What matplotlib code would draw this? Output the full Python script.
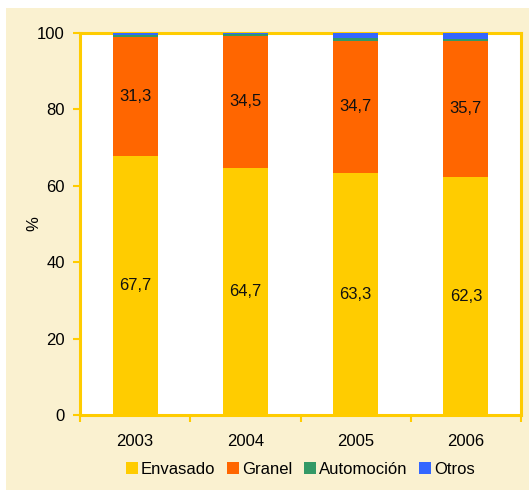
import numpy as np
import matplotlib.pyplot as plt
from matplotlib.patches import Rectangle

years = ['2003', '2004', '2005', '2006']
envasado = [67.7, 64.7, 63.3, 62.3]
granel = [31.3, 34.5, 34.7, 35.7]
automocion = [0.6, 0.5, 0.6, 0.5]
otros = [0.4, 0.3, 1.4, 1.5]

colores = ['#FFCC00', '#FF6600', '#339966', '#3366FF']
crema = '#FAF1D0'
oro = '#FFCC00'

plt.rcParams['font.family'] = ['Liberation Sans', 'DejaVu Sans']

fig = plt.figure(figsize=(5.29, 4.9), dpi=100, facecolor='white')
fig.patches.append(Rectangle((6/529, 0), 1 - 6/529, 1 - 8/490, transform=fig.transFigure,
                             facecolor=crema, edgecolor='none', zorder=-10))
ax = fig.add_axes([80/529, 1 - 415/490, 441/529, 382/490])
ax.set_facecolor('white')

x = np.arange(len(years))
w = 0.41
bottom = np.zeros(len(years))
series = [('Envasado', envasado), ('Granel', granel), ('Automoción', automocion), ('Otros', otros)]
for (nombre, vals), c in zip(series, colores):
    ax.bar(x, vals, w, bottom=bottom, color=c, label=nombre, zorder=3)
    bottom += np.array(vals)

for i in range(len(years)):
    ax.text(x[i], envasado[i] / 2, f'{envasado[i]:.1f}'.replace('.', ','),
            ha='center', va='center', fontsize=12, color='#111111', zorder=4)
    ax.text(x[i], envasado[i] + granel[i] / 2, f'{granel[i]:.1f}'.replace('.', ','),
            ha='center', va='center', fontsize=12, color='#111111', zorder=4)

ax.set_xlim(-0.5, 3.5)
ax.set_ylim(0, 100)
ax.set_yticks(range(0, 101, 20))
ax.set_xticks(x)
ax.set_xticklabels(years)
ax.set_xticks(np.arange(-0.5, 4, 1), minor=True)
ax.tick_params(axis='x', which='major', length=0, labelsize=12, pad=14)
ax.tick_params(axis='x', which='minor', length=5, color=oro, width=1.5)
ax.tick_params(axis='y', length=5, color=oro, width=1.5, labelsize=12, pad=6)
for s in ax.spines.values():
    s.set_color(oro)
    s.set_linewidth(2.2)
ax.set_ylabel('%', fontsize=12)
ax.yaxis.set_label_coords(-0.088, 0.5)

ax.legend(loc='center', bbox_to_anchor=(0.5, -0.143), ncol=4, frameon=False,
          fontsize=12, handlelength=0.7, handleheight=0.7, handletextpad=0.2,
          columnspacing=0.7)

fig.savefig('out.png', dpi=100, facecolor=fig.get_facecolor())
